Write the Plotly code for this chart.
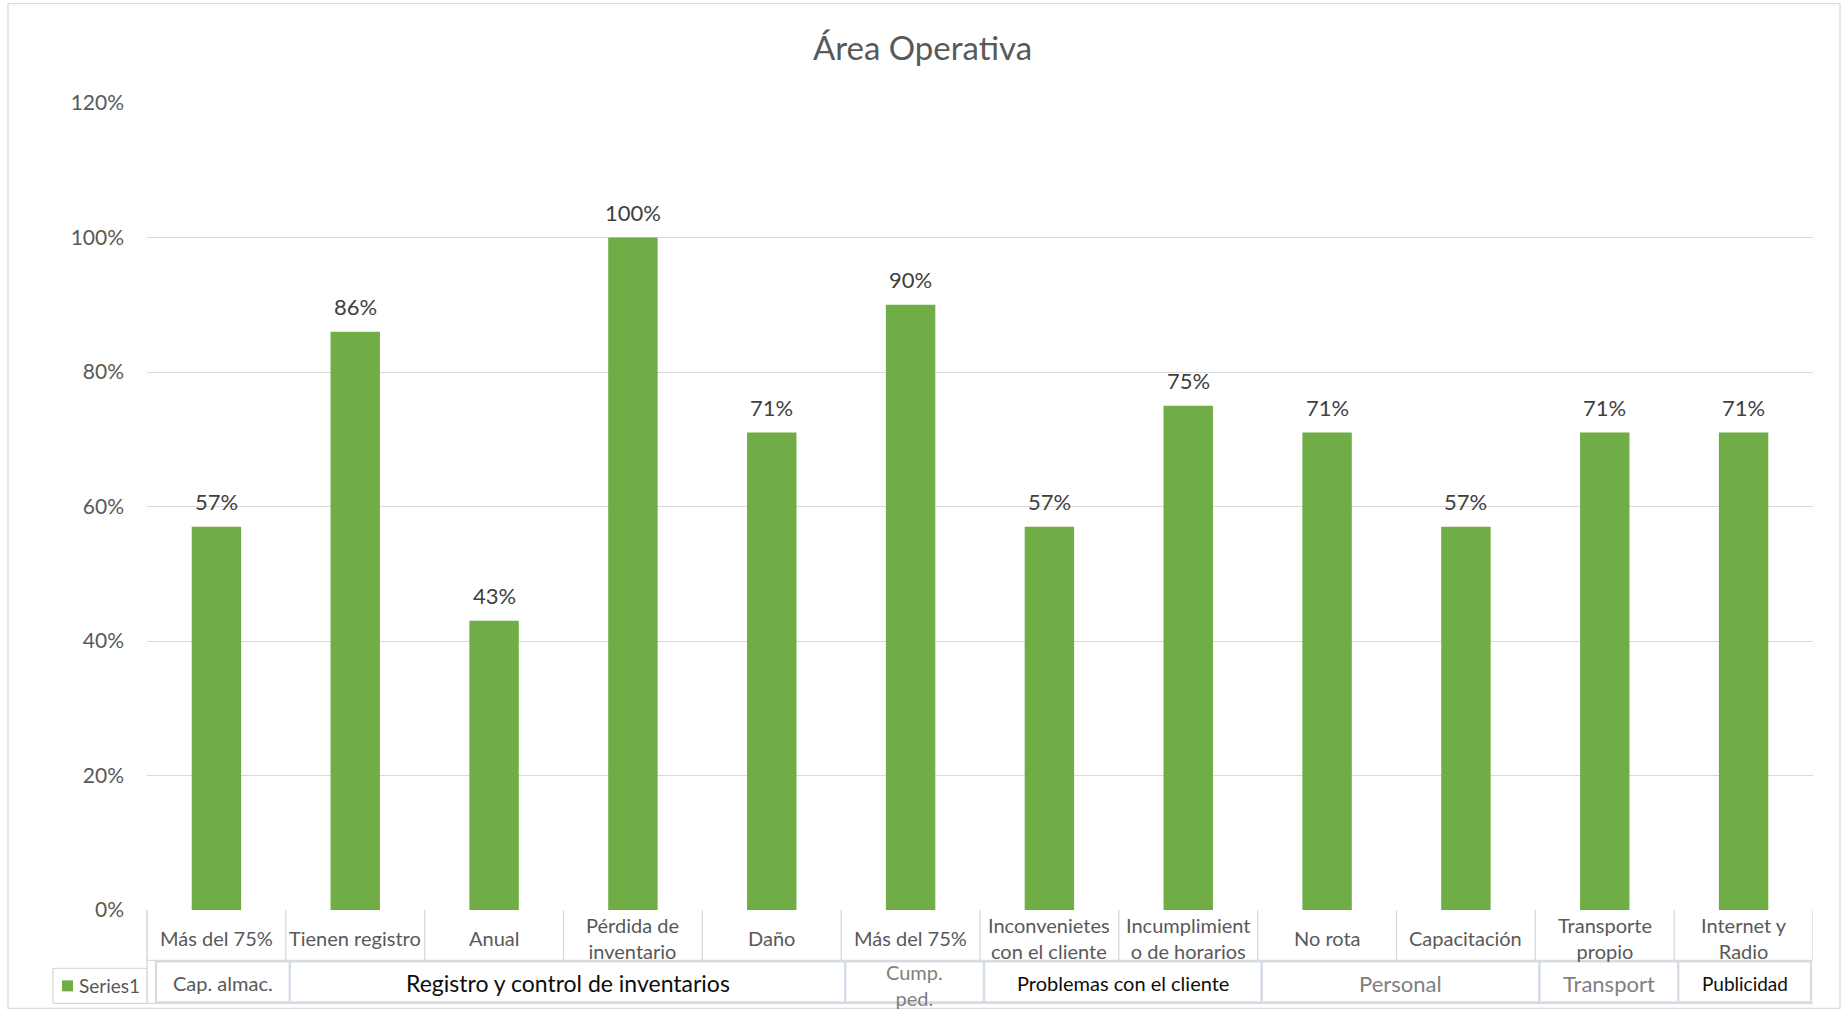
import plotly.graph_objects as go

# ---- data ----
categories = ["Más del 75%", "Tienen registro", "Anual", "Pérdida de<br>inventario", "Daño",
              "Más del 75%", "Inconvenietes<br>con el cliente", "Incumplimient<br>o de horarios",
              "No rota", "Capacitación", "Transporte<br>propio", "Internet y<br>Radio"]
values = [57, 86, 43, 100, 71, 90, 57, 75, 71, 57, 71, 71]
group_labels = ["Cap. almac.", "Registro y control de inventarios", "Cump.<br>ped.",
                "Problemas con el cliente", "Personal", "Transport", "Publicidad"]
group_sizes = [1, 4, 1, 2, 2, 1, 1]
group_colors = ["#595959", "#0d0d0d", "#7f7f7f", "#0d0d0d", "#7f7f7f", "#7f7f7f", "#0d0d0d"]
group_font_sizes = [20, 23, 20, 20, 22, 22, 19]
series_name = "Series1"
y_tick_vals = [0, 0.2, 0.4, 0.6, 0.8, 1.0, 1.2]

# ---- geometry (pixels) ----
W_FIG, H_FIG = 1845, 1014
L, R, T, B = 147, 1813, 103.3, 909.7
PW, PH = R - L, B - T
FONT = "Lato"
BAR_COLOR = "#70AD47"


def px_x(px):
    return (px - L) / PW


def px_y(py):
    return (B - py) / PH


n = len(categories)
xs = list(range(n))

fig = go.Figure()
fig.add_trace(go.Bar(
    x=xs, y=[v / 100 for v in values], name=series_name,
    marker=dict(color=BAR_COLOR, line=dict(width=0)),
    width=0.356, showlegend=False,
))

annotations = []
shapes = []

# data labels
for i, v in enumerate(values):
    annotations.append(dict(
        x=i, y=v / 100, xref="x", yref="y", text=f"{v}%", showarrow=False,
        xanchor="center", yanchor="bottom", yshift=10,
        font=dict(family=FONT, size=22, color="#404040")))

# category labels
for i, c in enumerate(categories):
    annotations.append(dict(
        x=i, y=px_y(938), xref="x", yref="paper", text=c, showarrow=False,
        xanchor="center", yanchor="middle", font=dict(family=FONT, size=20, color="#595959")))

grid_color = "#d9d9d9"
# category row vertical lines
for i in range(n + 1):
    shapes.append(dict(type="line", xref="x", yref="paper", x0=i - 0.5, x1=i - 0.5,
                       y0=px_y(909.7), y1=px_y(960), line=dict(color=grid_color, width=1.3)))
# category row bottom line & table bottom & left edge
shapes.append(dict(type="line", xref="paper", yref="paper", x0=0, x1=1,
                   y0=px_y(960), y1=px_y(960), line=dict(color=grid_color, width=1.3)))
shapes.append(dict(type="line", xref="paper", yref="paper", x0=0, x1=1,
                   y0=px_y(1003), y1=px_y(1003), line=dict(color=grid_color, width=1.3)))
shapes.append(dict(type="line", xref="paper", yref="paper", x0=0, x1=0,
                   y0=px_y(909.7), y1=px_y(1003), line=dict(color=grid_color, width=1.3)))

# group boxes and labels
cell = PW / n
start = 0
for gi, (lab, size) in enumerate(zip(group_labels, group_sizes)):
    end = start + size
    x0 = L + start * cell + (9 if start == 0 else 4)
    x1 = L + end * cell + (4 if end < n else -2)
    shapes.append(dict(type="rect", xref="paper", yref="paper",
                       x0=px_x(x0), x1=px_x(x1), y0=px_y(961), y1=px_y(1002),
                       line=dict(color="#d6dce5", width=2.2), fillcolor="rgba(0,0,0,0)"))
    ycen = 983 if "<br>" not in lab else 985
    annotations.append(dict(
        x=px_x((x0 + x1) / 2), y=px_y(ycen), xref="paper", yref="paper", text=lab,
        showarrow=False, xanchor="center", yanchor="middle",
        font=dict(family=FONT, size=group_font_sizes[gi], color=group_colors[gi])))
    start = end

# legend (drawn in the table's left cell)
shapes.append(dict(type="rect", xref="paper", yref="paper",
                   x0=px_x(53), x1=px_x(147), y0=px_y(968), y1=px_y(1003),
                   line=dict(color=grid_color, width=1.3), fillcolor="white"))
shapes.append(dict(type="rect", xref="paper", yref="paper",
                   x0=px_x(62), x1=px_x(73), y0=px_y(980), y1=px_y(991),
                   line=dict(width=0), fillcolor=BAR_COLOR))
annotations.append(dict(x=px_x(77), y=px_y(985.5), xref="paper", yref="paper",
                        text=series_name, showarrow=False, xanchor="left", yanchor="middle",
                        font=dict(family=FONT, size=19, color="#595959")))

# outer chart border
shapes.append(dict(type="rect", xref="paper", yref="paper",
                   x0=px_x(8), x1=px_x(1840), y0=px_y(4), y1=px_y(1008),
                   line=dict(color=grid_color, width=1.3), layer="below"))

fig.update_layout(
    width=W_FIG, height=H_FIG,
    margin=dict(l=L, r=W_FIG - R, t=T, b=H_FIG - B, pad=0, autoexpand=False),
    paper_bgcolor="white", plot_bgcolor="white",
    title=dict(text="Área Operativa", x=0.5, xref="container", xanchor="center",
               y=1 - 48 / H_FIG, yref="container", yanchor="middle",
               font=dict(family=FONT, size=33, color="#595959")),
    xaxis=dict(range=[-0.5, n - 0.5], showticklabels=False, showgrid=False,
               zeroline=False, showline=False),
    yaxis=dict(range=[0, 1.2], tickvals=y_tick_vals, tickformat=".0%",
               showgrid=True, gridcolor=grid_color, gridwidth=1.3, zeroline=False,
               showline=False, ticks="", ticklabelstandoff=22,
               tickfont=dict(family=FONT, size=21, color="#595959")),
    bargap=0.644,
    showlegend=False,
    annotations=annotations, shapes=shapes,
    font=dict(family=FONT),
)

fig.write_html("out.html", config={"displayModeBar": False},
               post_script="document.body.style.margin='0';")
